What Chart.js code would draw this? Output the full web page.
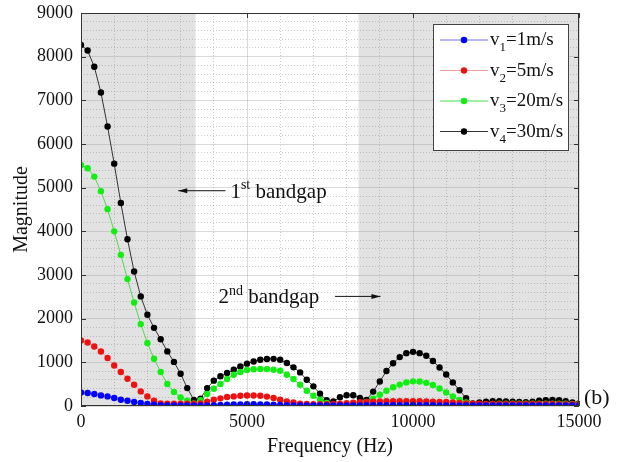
<!DOCTYPE html>
<html>
<head>
<meta charset="utf-8">
<script src="https://cdn.jsdelivr.net/npm/chart.js@4.4.0/dist/chart.umd.min.js"></script>
<style>
  body { margin: 0; background: #fff; }
  canvas { display: block; }
</style>
</head>
<body>
<canvas id="chart" width="619" height="462"></canvas>
<script>
// frequency grid (Hz)
const freqs = [
  0, 200, 400, 600, 800, 1000, 1200, 1400, 1600, 1800,
  2000, 2200, 2400, 2600, 2800, 3000, 3200, 3400, 3600, 3800,
  4000, 4200, 4400, 4600, 4800, 5000, 5200, 5400, 5600, 5800,
  6000, 6200, 6400, 6600, 6800, 7000, 7200, 7400, 7600, 7800,
  8000, 8200, 8400, 8600, 8800, 9000, 9200, 9400, 9600, 9800,
  10000, 10200, 10400, 10600, 10800, 11000, 11200, 11400, 11600, 11800,
  12000, 12200, 12400, 12600, 12800, 13000, 13200, 13400, 13600, 13800,
  14000, 14200, 14400, 14600, 14800, 15000
];

const v1 = [
  311, 297, 275, 243, 220, 183, 144, 121, 92, 69,
  46, 30, 20, 15, 12, 10, 10, 10, 12, 15,
  20, 25, 30, 35, 38, 40, 40, 38, 35, 30,
  25, 20, 15, 12, 10, 10, 10, 10, 10, 12,
  12, 14, 15, 16, 16, 17, 18, 18, 18, 18,
  18, 18, 17, 16, 15, 14, 13, 12, 12, 12,
  12, 12, 12, 12, 12, 12, 12, 12, 12, 12,
  12, 12, 12, 12, 12, 12
];

const v2 = [
  1500, 1455, 1364, 1249, 1098, 929, 778, 625, 487, 334,
  220, 121, 60, 53, 50, 50, 50, 50, 60, 98,
  144, 175, 206, 220, 236, 240, 240, 236, 215, 185,
  145, 105, 82, 55, 45, 40, 40, 40, 45, 55,
  65, 75, 85, 95, 100, 105, 110, 110, 110, 110,
  110, 110, 105, 100, 95, 90, 80, 70, 60, 55,
  50, 48, 46, 45, 45, 45, 45, 45, 45, 45,
  45, 45, 44, 43, 42, 40
];

const v3 = [
  5520, 5445, 5254, 4920, 4508, 4000, 3462, 2906, 2371, 1876,
  1442, 1082, 778, 503, 320, 197, 120, 60, 130, 275,
  396, 503, 618, 716, 778, 824, 840, 847, 845, 830,
  808, 716, 618, 487, 350, 236, 144, 69, 30, 34,
  30, 30, 40, 90, 170, 260, 350, 430, 490, 540,
  565, 560, 530, 480, 400, 310, 220, 140, 80, 40,
  35, 40, 45, 50, 55, 55, 55, 50, 50, 50,
  55, 55, 55, 50, 45, 40
];

const v4 = [
  8270, 8140, 7770, 7180, 6400, 5550, 4650, 3820, 3080, 2510,
  2090, 1790, 1530, 1250, 1010, 740, 410, 140, 170, 410,
  580, 680, 755, 830, 905, 970, 1020, 1060, 1075, 1080,
  1060, 985, 885, 770, 600, 450, 280, 130, 105, 200,
  245, 245, 185, 140, 330, 560, 800, 980, 1120, 1210,
  1240, 1210, 1150, 1030, 880, 720, 540, 360, 180, 60,
  80, 100, 110, 110, 105, 100, 90, 85, 100, 120,
  135, 140, 130, 110, 80, 60
];

const seriesNames = ['1', '2', '3', '4'];
const seriesSpeeds = ['=1m/s', '=5m/s', '=20m/s', '=30m/s'];
const seriesValues = [v1, v2, v3, v4];
const pointColors = ['#0000ff', '#ee1111', '#11ee11', '#000000'];
const lineColors = ['#6f6ff5', '#e8a0a0', '#4fd84f', '#333333'];

// bandgap shading (Hz)
const shadedBands = [[0, 3450], [8360, 15000]];

const serif = "'Liberation Serif', 'Times New Roman', serif";
const majorGrid = 'rgba(160,160,160,0.4)';
const minorGrid = 'rgba(120,120,120,0.38)';

const datasets = seriesValues.map((vals, i) => ({
  label: 'v' + seriesNames[i] + seriesSpeeds[i],
  data: freqs.map((f, k) => ({ x: f, y: vals[k] })),
  borderColor: lineColors[i],
  backgroundColor: pointColors[i],
  pointBackgroundColor: pointColors[i],
  pointBorderWidth: 0,
  pointRadius: 3.2,
  borderWidth: 1,
  tension: 0
}));

function drawParts(ctx, parts, x, y, size) {
  // parts: [text, mode] mode: 0 normal, 1 superscript, -1 subscript
  ctx.textBaseline = 'alphabetic';
  ctx.textAlign = 'left';
  parts.forEach(([t, mode]) => {
    const s = mode === 0 ? size : Math.round(size * 0.66);
    ctx.font = s + 'px ' + serif;
    const dy = mode === 1 ? -size * 0.42 : (mode === -1 ? size * 0.32 : 0);
    ctx.fillText(t, x, y + dy);
    x += ctx.measureText(t).width;
  });
  return x;
}

function arrow(ctx, x0, x1, y) {
  // arrow from x0 to x1, head at x1
  ctx.beginPath();
  ctx.moveTo(x0, y);
  ctx.lineTo(x1, y);
  ctx.stroke();
  const d = x1 > x0 ? -1 : 1;
  ctx.beginPath();
  ctx.moveTo(x1, y);
  ctx.lineTo(x1 + d * 9, y - 2.5);
  ctx.lineTo(x1 + d * 9, y + 2.5);
  ctx.closePath();
  ctx.fill();
}

const decorPlugin = {
  id: 'decor',
  beforeDraw(chart) {
    const { ctx, chartArea: a, scales: { x } } = chart;
    ctx.save();
    ctx.fillStyle = '#e2e2e2';
    shadedBands.forEach(([f0, f1]) => {
      const x0 = x.getPixelForValue(f0), x1 = x.getPixelForValue(f1);
      ctx.fillRect(x0, a.top, x1 - x0, a.bottom - a.top);
    });
    ctx.restore();
  },
  afterDraw(chart) {
    const { ctx, chartArea: a, scales: { x, y } } = chart;
    ctx.save();

    // box + inner ticks
    ctx.strokeStyle = '#333';
    ctx.lineWidth = 1;
    ctx.strokeRect(a.left + 0.5, a.top + 0.5, a.right - a.left - 1, a.bottom - a.top - 1);
    ctx.beginPath();
    for (let v = 0; v <= 9000; v += 1000) {
      const py = Math.round(y.getPixelForValue(v)) + 0.5;
      ctx.moveTo(a.left, py); ctx.lineTo(a.left + 5, py);
      ctx.moveTo(a.right, py); ctx.lineTo(a.right - 5, py);
    }
    for (let f = 0; f <= 15000; f += 5000) {
      const px = Math.round(x.getPixelForValue(f)) + 0.5;
      ctx.moveTo(px, a.bottom); ctx.lineTo(px, a.bottom - 5);
      ctx.moveTo(px, a.top); ctx.lineTo(px, a.top + 5);
    }
    ctx.stroke();

    // bandgap annotations
    ctx.fillStyle = '#111';
    ctx.strokeStyle = '#111';
    ctx.lineWidth = 1;
    const y1 = y.getPixelForValue(4930);
    arrow(ctx, x.getPixelForValue(4350), x.getPixelForValue(2930), y1);
    drawParts(ctx, [['1', 0], ['st', 1], [' bandgap', 0]], x.getPixelForValue(4500), y1 + 7, 21);

    const y2 = y.getPixelForValue(2510);
    drawParts(ctx, [['2', 0], ['nd', 1], [' bandgap', 0]], x.getPixelForValue(4140), y2 + 7, 21);
    arrow(ctx, x.getPixelForValue(7650), x.getPixelForValue(9020), y2);

    // panel label
    ctx.font = '22px ' + serif;
    ctx.textBaseline = 'middle';
    ctx.textAlign = 'left';
    ctx.fillText('(b)', a.right + 5, a.bottom - 8);

    // legend box
    const lw = 135, lh = 126;
    const lx = a.right - 11 - lw, ly = a.top + 11;
    ctx.fillStyle = '#fff';
    ctx.fillRect(lx, ly, lw, lh);
    ctx.strokeStyle = '#444';
    ctx.strokeRect(lx + 0.5, ly + 0.5, lw, lh);
    seriesNames.forEach((n, i) => {
      const cy = ly + 16 + i * 30.5;
      ctx.strokeStyle = lineColors[i];
      ctx.lineWidth = 1;
      ctx.beginPath();
      ctx.moveTo(lx + 7, cy);
      ctx.lineTo(lx + 55, cy);
      ctx.stroke();
      ctx.fillStyle = pointColors[i];
      ctx.beginPath();
      ctx.arc(lx + 31, cy, 3.2, 0, Math.PI * 2);
      ctx.fill();
      ctx.fillStyle = '#111';
      drawParts(ctx, [['v', 0], [n, -1], [seriesSpeeds[i], 0]], lx + 57, cy + 5, 19);
    });

    ctx.restore();
  }
};

new Chart(document.getElementById('chart'), {
  type: 'line',
  data: { datasets: datasets },
  plugins: [decorPlugin],
  options: {
    responsive: false,
    animation: false,
    layout: { padding: { top: 13, right: 40, bottom: 0, left: 0 } },
    plugins: {
      legend: { display: false },
      tooltip: { enabled: false }
    },
    scales: {
      x: {
        type: 'linear',
        min: 0,
        max: 15000,
        afterFit: s => {
          s.height = 56;
          s.paddingLeft = 0;
          s.paddingRight = 0;
        },
        ticks: {
          stepSize: 1000,
          autoSkip: false,
          maxRotation: 0,
          padding: 5,
          color: '#111',
          font: { family: serif, size: 18 },
          callback: v => (v % 5000 === 0 ? v : '')
        },
        grid: {
          drawTicks: false,
          color: c => (c.tick && c.tick.value % 5000 === 0 ? majorGrid : minorGrid)
        },
        border: {
          display: false,
          dash: c => (c.tick && c.tick.value % 5000 === 0 ? [] : [1, 2])
        },
        title: {
          display: true,
          text: 'Frequency (Hz)',
          color: '#111',
          font: { family: serif, size: 20 },
          padding: { top: 0, bottom: 3 }
        }
      },
      y: {
        min: 0,
        max: 9000,
        afterFit: s => {
          s.width = 81;
          s.paddingTop = 0;
          s.paddingBottom = 0;
        },
        ticks: {
          stepSize: 200,
          autoSkip: false,
          padding: 8,
          color: '#111',
          font: { family: serif, size: 18 },
          callback: v => (v % 1000 === 0 ? v : '')
        },
        grid: {
          drawTicks: false,
          color: c => (c.tick && c.tick.value % 1000 === 0 ? majorGrid : minorGrid)
        },
        border: {
          display: false,
          dash: c => (c.tick && c.tick.value % 1000 === 0 ? [] : [1, 2])
        },
        title: {
          display: true,
          text: 'Magnitude',
          color: '#111',
          font: { family: serif, size: 20 },
          padding: { top: 10, bottom: 0 }
        }
      }
    }
  }
});
</script>
</body>
</html>
